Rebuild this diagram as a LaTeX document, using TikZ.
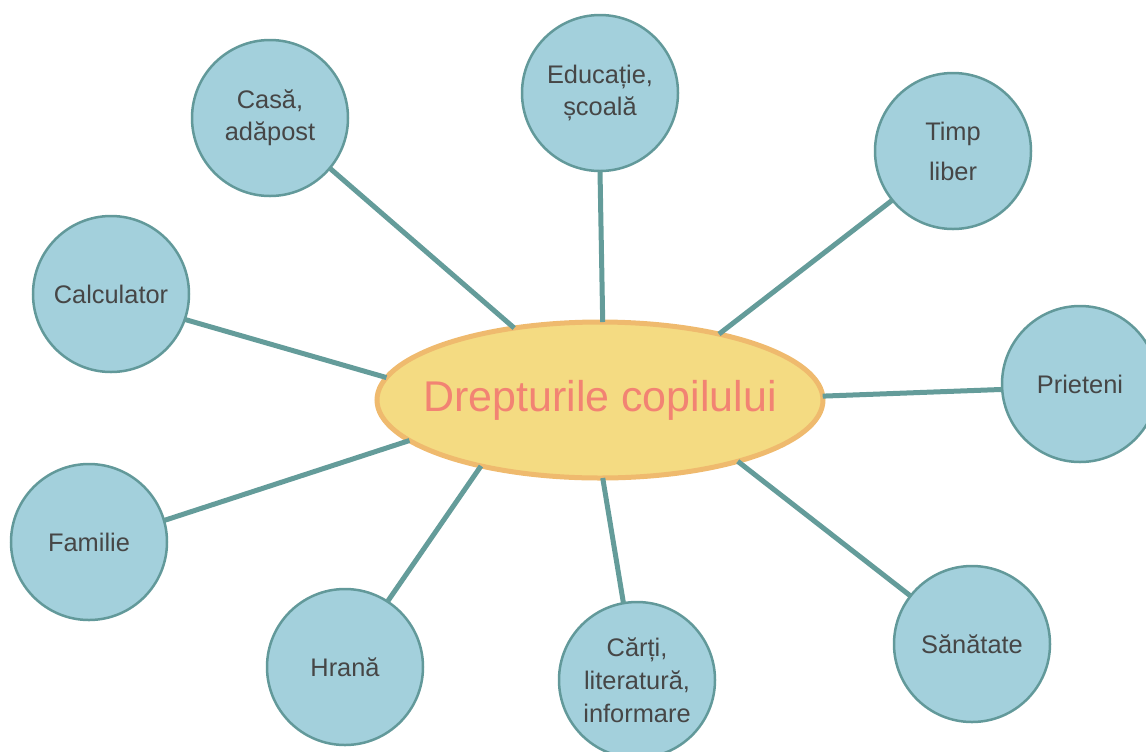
\documentclass[tikz,border=0pt]{standalone}
\usepackage{fontspec}
\setmainfont{Liberation Sans}
\usetikzlibrary{shapes.geometric}
\definecolor{circfill}{HTML}{A3D0DC}
\definecolor{circline}{HTML}{62999A}
\definecolor{conn}{HTML}{649C9A}
\definecolor{ellfill}{HTML}{F4DB82}
\definecolor{ellline}{HTML}{EFBA6E}
\definecolor{elltext}{HTML}{F28373}
\definecolor{circtext}{HTML}{464646}
\tikzset{
  topic/.style={circle, draw=circline, fill=circfill, line width=1.25pt, minimum size=78pt, inner sep=0pt, outer sep=0pt, text=circtext, font=\fontsize{12.7}{16}\selectfont, align=center},
  hub/.style={ellipse, draw=ellline, fill=ellfill, line width=2.5pt, minimum width=223pt, minimum height=78pt, inner sep=0pt, outer sep=0pt, text=elltext, font=\fontsize{21.5}{26}\selectfont},
  link/.style={draw=conn, line width=2.5pt}
}
\begin{document}
\begin{tikzpicture}[x=0.5pt, y=-0.5pt]
\useasboundingbox (0,0) rectangle (1146,751);
\node[hub] (c) at (600,400) {\makebox[0pt]{Drepturile copilului}};
\node[topic] (casa) at (270,118) {Casă,\\adăpost};
\node[topic] (edu) at (600,93) {Educație,\\școală};
\node[topic, font=\fontsize{12.7}{20}\selectfont] (timp) at (953,151) {Timp\\liber};
\node[topic] (calc) at (111,294) {Calculator};
\node[topic] (prie) at (1080,384) {Prieteni};
\node[topic] (fam) at (89,542) {Familie};
\node[topic] (hrana) at (345,667) {Hrană};
\node[topic, font=\fontsize{12.7}{16.5}\selectfont] (carti) at (637,680) {Cărți,\\literatură,\\informare};
\node[topic] (san) at (972,644) {Sănătate};
\draw[link] (casa.-40) -- (c.140);
\draw[link] (edu.-90) -- (c.88);
\draw[link] (timp.219) -- (c.29);
\draw[link] (calc.-19) -- (c.174);
\draw[link] (prie.184) -- (c.1.5);
\draw[link] (fam.16) -- (c.192);
\draw[link] (hrana.57) -- (c.209);
\draw[link] (carti.100) -- (c.272);
\draw[link] (san.142) -- (c.336);
\end{tikzpicture}
\end{document}
